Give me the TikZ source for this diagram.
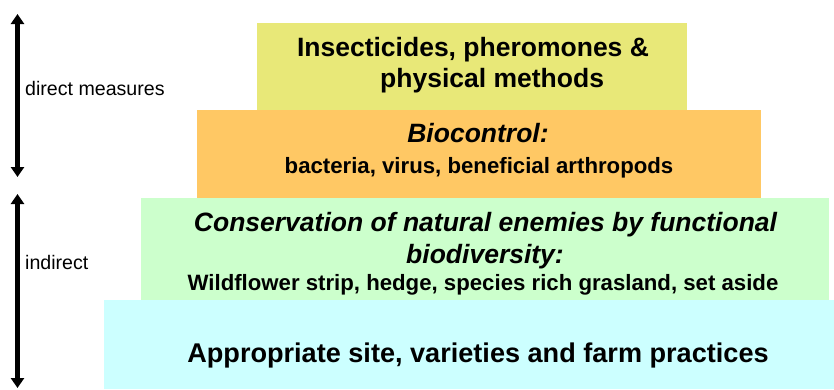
\documentclass[tikz,border=0pt]{standalone}
\usepackage{fontspec}
\setmainfont{Liberation Sans}
\usepackage{xcolor}
\usetikzlibrary{arrows.meta,positioning}

\definecolor{insectyellow}{RGB}{232,232,120}
\definecolor{bioorange}{RGB}{255,200,100}
\definecolor{consgreen}{RGB}{204,255,204}
\definecolor{sitecyan}{RGB}{204,255,255}

\tikzset{
  layer/.style={inner sep=0pt, outer sep=0pt, draw=none},
  titletext/.style={inner sep=0pt, font=\fontsize{26.5}{31}\selectfont\bfseries},
  titleit/.style={inner sep=0pt, font=\fontsize{26.5}{31}\selectfont\bfseries\itshape},
  subtext/.style={inner sep=0pt, font=\fontsize{22.2}{27}\selectfont\bfseries},
  sidetext/.style={inner sep=0pt, font=\fontsize{19.6}{23}\selectfont},
  rangearrow/.style={line width=5pt,
    {Triangle[width=13pt,length=10pt]}-{Triangle[width=13pt,length=10pt]}}
}

\begin{document}
\begin{tikzpicture}[x=1pt,y=-1pt]
  \useasboundingbox (0,0) rectangle (834,389);

  % Pyramid layers
  \node[layer, fill=insectyellow, minimum width=430, minimum height=87] (insect) at (472,66.5) {};
  \node[layer, fill=bioorange, minimum width=564, minimum height=88] (bio) at (479,154) {};
  \node[layer, fill=consgreen, minimum width=688, minimum height=102] (cons) at (485,249) {};
  \node[layer, fill=sitecyan, minimum width=730, minimum height=89] (site) at (469,344.5) {};

  % Layer texts
  \node[titletext, anchor=base] (insect1) at (473,56) {Insecticides, pheromones \&};
  \node[titletext, anchor=base west] (insect2) at (380,87) {physical methods};

  \node[titleit, anchor=base] (bio1) at (478,142) {Biocontrol:};
  \node[subtext, anchor=base] (bio2) at (479,173) {bacteria, virus, beneficial arthropods};

  \node[titleit, anchor=base] (cons1) at (485.5,231) {Conservation of natural enemies by functional};
  \node[titleit, anchor=base] (cons2) at (485,263) {biodiversity:};
  \node[subtext, anchor=base] (cons3) at (483,290) {Wildflower strip, hedge, species rich grasland, set aside};

  \node[titletext, font=\fontsize{27.1}{31}\selectfont\bfseries, anchor=base] (site1) at (478,362) {Appropriate site, varieties and farm practices};

  % Measure ranges
  \coordinate (directtop) at (17.5,14);
  \coordinate (directbot) at (17.5,177);
  \coordinate (indirtop) at (17.5,194);
  \coordinate (indirbot) at (17.5,388);

  \draw[rangearrow] (directtop) -- (directbot);
  \draw[rangearrow] (indirtop) -- (indirbot);

  \node[sidetext, anchor=base west] (direct) at (25,95) {direct measures};
  \node[sidetext, anchor=base west] (indirect) at (25,269) {indirect};
\end{tikzpicture}
\end{document}
